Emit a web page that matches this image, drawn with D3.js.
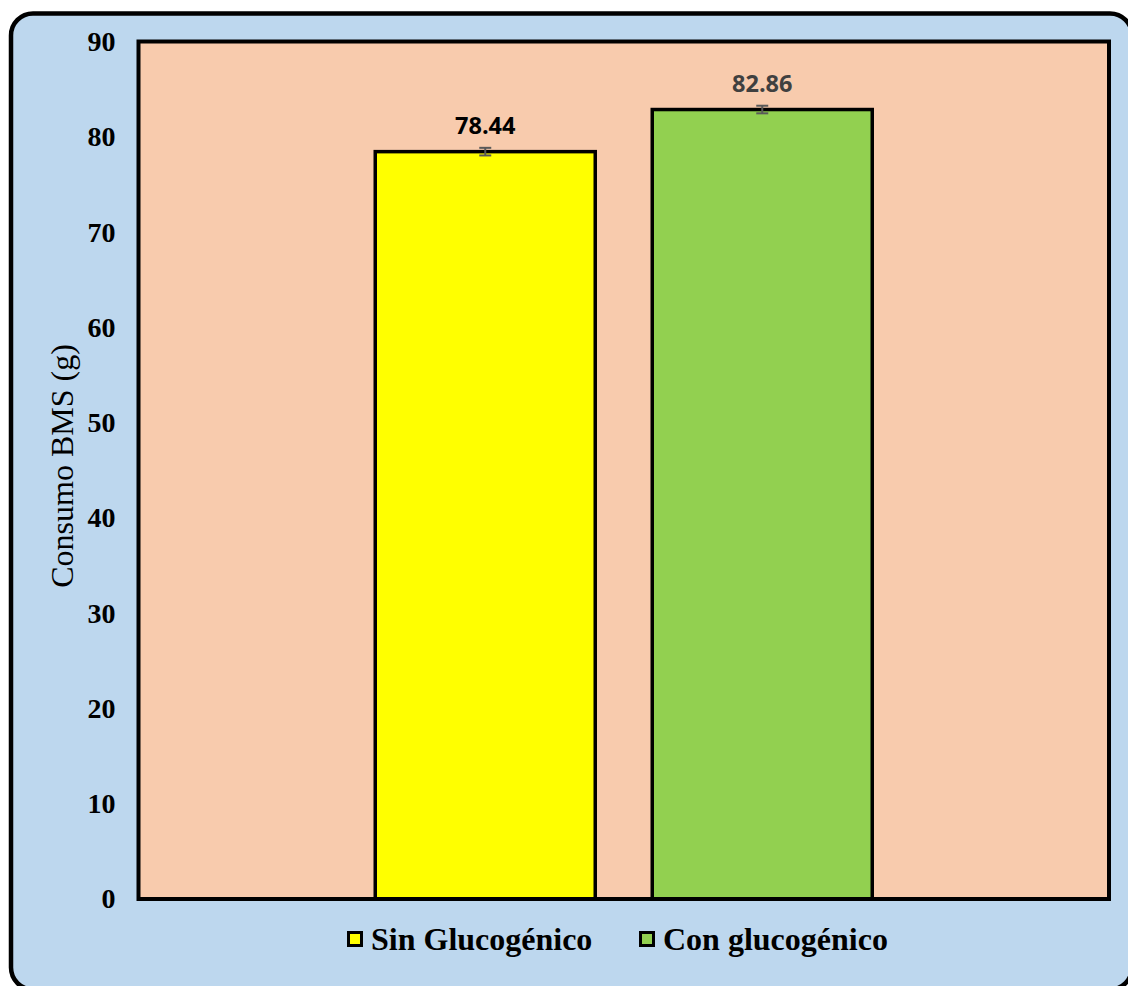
<!DOCTYPE html>
<html>
<head>
<meta charset="utf-8">
<script src="https://cdn.jsdelivr.net/npm/d3@7"></script>
<style>
  html, body { margin: 0; padding: 0; background: #ffffff; }
  svg { display: block; }
</style>
</head>
<body>
<script>
// Consumo de BMS por tratamiento
const series = ["Sin Glucogénico", "Con glucogénico"];
const values = [78.44, 82.86];
const errors = [0.4, 0.4];
const colors = ["#FFFF00", "#92D050"];
const labelColors = ["#000000", "#404040"];
const yTicks = [0, 10, 20, 30, 40, 50, 60, 70, 80, 90];
const yTitle = "Consumo BMS (g)";

const W = 1128, H = 986;
const plot = { left: 138.5, right: 1109, top: 41.5, bottom: 899 };

const svg = d3.select("body").append("svg")
  .attr("width", W).attr("height", H);

// outer chart frame
svg.append("rect")
  .attr("x", 11).attr("y", 13.5)
  .attr("width", 1121).attr("height", 976)
  .attr("rx", 22).attr("ry", 22)
  .attr("fill", "#BDD7EE")
  .attr("stroke", "#000").attr("stroke-width", 4.5);

// plot area
svg.append("rect")
  .attr("x", plot.left).attr("y", plot.top)
  .attr("width", plot.right - plot.left).attr("height", plot.bottom - plot.top)
  .attr("fill", "#F8CBAD");

const y = d3.scaleLinear().domain([0, 90]).range([plot.bottom, plot.top]);
const x = d3.scaleBand().domain(series)
  .range([plot.left, plot.right])
  .paddingInner(0.2058).paddingOuter(0.8547);

// bars
svg.append("g").selectAll("rect")
  .data(series)
  .join("rect")
  .attr("x", d => x(d))
  .attr("width", x.bandwidth())
  .attr("y", (d, i) => y(values[i]))
  .attr("height", (d, i) => y(0) - y(values[i]))
  .attr("fill", (d, i) => colors[i])
  .attr("stroke", "#000")
  .attr("stroke-width", 3.5);

// error bars
const eg = svg.append("g").attr("stroke", "#595959").attr("stroke-width", 2);
series.forEach((s, i) => {
  const cx = x(s) + x.bandwidth() / 2;
  const y1 = y(values[i] + errors[i]);
  const y2 = y(values[i] - errors[i]);
  eg.append("line").attr("x1", cx).attr("x2", cx).attr("y1", y1).attr("y2", y2);
  eg.append("line").attr("x1", cx - 6).attr("x2", cx + 6).attr("y1", y1).attr("y2", y1);
  eg.append("line").attr("x1", cx - 6).attr("x2", cx + 6).attr("y1", y2).attr("y2", y2);
});

// value labels
svg.append("g").selectAll("text")
  .data(series)
  .join("text")
  .attr("x", d => x(d) + x.bandwidth() / 2)
  .attr("y", (d, i) => y(values[i]) - 18)
  .attr("text-anchor", "middle")
  .attr("font-family", "'Open Sans', sans-serif")
  .attr("font-weight", "bold")
  .attr("font-size", 23.5)
  .attr("fill", (d, i) => labelColors[i])
  .text((d, i) => values[i].toFixed(2));

// plot frame (drawn over the bars' bases)
svg.append("rect")
  .attr("x", plot.left).attr("y", plot.top)
  .attr("width", plot.right - plot.left).attr("height", plot.bottom - plot.top)
  .attr("fill", "none")
  .attr("stroke", "#000").attr("stroke-width", 4);

// y axis
const yAxis = d3.axisLeft(y).tickValues(yTicks).tickSize(0).tickPadding(23);
const ga = svg.append("g")
  .attr("transform", `translate(${plot.left},0)`)
  .call(yAxis);
ga.select(".domain").remove();
ga.selectAll("text")
  .attr("font-family", "'Liberation Serif', 'Times New Roman', serif")
  .attr("font-weight", "bold")
  .attr("font-size", 28)
  .attr("fill", "#000");

svg.append("text")
  .attr("transform", `translate(73,466) rotate(-90)`)
  .attr("text-anchor", "middle")
  .attr("font-family", "'Liberation Serif', 'Times New Roman', serif")
  .attr("font-size", 32)
  .attr("fill", "#000")
  .text(yTitle);

// legend
const legendX = [347, 639];
const lg = svg.append("g");
series.forEach((s, i) => {
  lg.append("rect")
    .attr("x", legendX[i] + 1.5).attr("y", 932.5)
    .attr("width", 13).attr("height", 13)
    .attr("fill", colors[i])
    .attr("stroke", "#000").attr("stroke-width", 3);
  lg.append("text")
    .attr("x", legendX[i] + 24).attr("y", 950)
    .attr("font-family", "'Liberation Serif', 'Times New Roman', serif")
    .attr("font-weight", "bold")
    .attr("font-size", 32)
    .attr("fill", "#000")
    .text(s);
});
</script>
</body>
</html>
